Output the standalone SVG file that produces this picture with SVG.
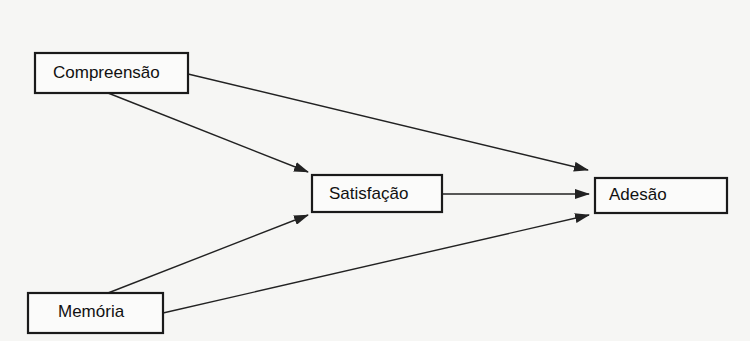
<svg xmlns="http://www.w3.org/2000/svg" width="750" height="341" viewBox="0 0 750 341">
<style>
.box{fill:#fbfbfa;stroke:#1a1a1a;stroke-width:2.2}
.lbl{font-family:"Liberation Sans",Arial,sans-serif;font-size:17px;fill:#111}
.edge{stroke:#222;stroke-width:1.4;fill:none;marker-end:url(#ah)}
</style>
<defs>
<marker id="ah" viewBox="0 0 15 10" refX="14" refY="5" markerWidth="15" markerHeight="10" markerUnits="userSpaceOnUse" orient="auto">
<path d="M0,0 L15,5 L0,10 Z" fill="#222"/>
</marker>
</defs>
<rect width="750" height="341" fill="#f6f6f4"/>
<g id="edges">
<line class="edge" x1="188" y1="74" x2="588" y2="170"/>
<line class="edge" x1="108" y1="93" x2="308" y2="172"/>
<line class="edge" x1="442" y1="194" x2="589" y2="194"/>
<line class="edge" x1="108" y1="293" x2="308" y2="215"/>
<line class="edge" x1="163" y1="313" x2="589" y2="215"/>
</g>
<g id="compreensao">
<rect class="box" x="35" y="53" width="153" height="40"/>
<text class="lbl" x="53" y="78">Compreensão</text>
</g>
<g id="satisfacao">
<rect class="box" x="312" y="175" width="130" height="37"/>
<text class="lbl" x="329" y="199">Satisfação</text>
</g>
<g id="adesao">
<rect class="box" x="595" y="178" width="132" height="35"/>
<text class="lbl" x="609" y="200">Adesão</text>
</g>
<g id="memoria">
<rect class="box" x="28" y="293" width="135" height="40"/>
<text class="lbl" x="58" y="317">Memória</text>
</g>
</svg>
